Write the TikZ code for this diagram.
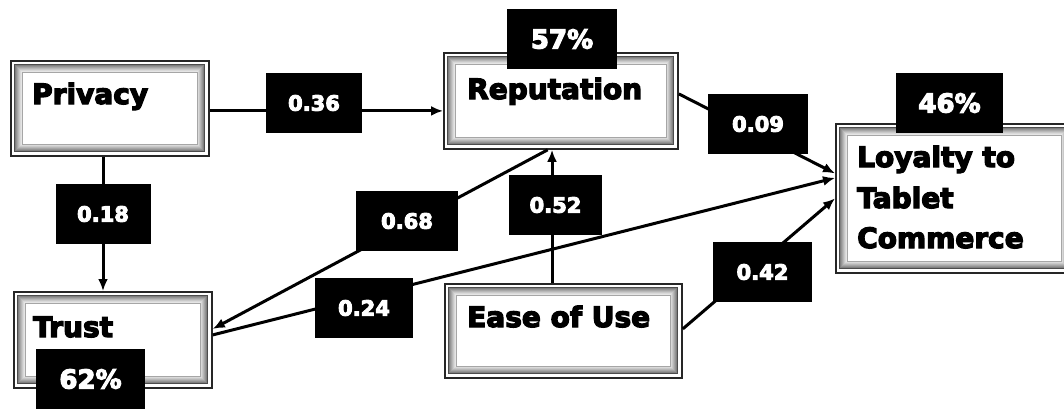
\documentclass[tikz,border=0pt]{standalone}
\usepackage{fontspec}
\newfontfamily\blk{DejaVu Sans Bold}[FakeBold=4.5]
\usetikzlibrary{arrows.meta,calc}
\tikzset{
  bev/.style={rectangle, anchor=north west, inner sep=0pt, draw=black!85, line width=1.8pt, fill=white,
    path picture={
      \fill[black!70] ([shift={(3.5pt,-3.5pt)}]path picture bounding box.north west) rectangle ([shift={(-3.5pt,3.5pt)}]path picture bounding box.south east);
      \foreach \i/\c in {4.5/50,5.5/42,6.5/35,7.5/28,8.5/21,9.5/15,10.5/10}{
        \fill[black!\c] ([shift={(\i pt,-\i pt)}]path picture bounding box.north west) rectangle ([shift={(-\i pt,\i pt)}]path picture bounding box.south east);
      }
      \fill[black!35] ([shift={(11.3pt,-11.3pt)}]path picture bounding box.north west) rectangle ([shift={(-11.3pt,11.3pt)}]path picture bounding box.south east);
      \fill[white] ([shift={(12pt,-12pt)}]path picture bounding box.north west) rectangle ([shift={(-12pt,12pt)}]path picture bounding box.south east);
    }},
  lab/.style={fill=black, text=white, font=\blk\fontsize{21}{24}\selectfont, inner sep=0pt},
  pct/.style={lab, font=\blk\fontsize{26}{30}\selectfont},
  txt/.style={anchor=base west, inner sep=0pt, font=\blk\fontsize{28}{34}\selectfont},
  arr/.style={line width=3pt, -{Latex[length=12pt,width=10pt]}}
}
\begin{document}
\begin{tikzpicture}[x=1pt, y=-1pt]
\path[use as bounding box, clip] (0,0) rectangle (1064,408);
\fill[white] (0,0) rectangle (1064,408);

% boxes
\node[bev, minimum width=198pt, minimum height=95pt] (priv) at (10,60) {};
\node[bev, minimum width=234pt, minimum height=96pt] (rep) at (443,52) {};
\node[bev, minimum width=198pt, minimum height=96pt] (trust) at (13,291) {};
\node[bev, minimum width=237pt, minimum height=94pt] (ease) at (444,283) {};
\node[bev, minimum width=237pt, minimum height=149pt] (loy) at (835,123) {};

% box texts
\node[txt] (tpriv) at (32,104) {Privacy};
\node[txt] (trep) at (467,99) {Reputation};
\node[txt] (ttrust) at (33,337) {Trust};
\node[txt] (tease) at (467,327) {Ease of Use};
\node[txt] (tloy1) at (857,167) {Loyalty to};
\node[txt] (tloy2) at (857,208) {Tablet};
\node[txt] (tloy3) at (857,248) {Commerce};

% label positions
\coordinate (c36) at (314,103);
\coordinate (c18) at (103,214);
\coordinate (c68) at (407,221);
\coordinate (c52) at (552,205);
\coordinate (c24) at (364,308);
\coordinate (c09) at (758,124);
\coordinate (c42) at (762.5,272);

% connectors
\coordinate (p36s) at ([yshift=-2.5pt]priv.east);
\draw[arr] (p36s) -- (p36s -| rep.west);
\draw[arr] (c18 |- priv.south) -- (c18 |- trust.north);
\draw[arr] ($(rep.south west)!0.444!(rep.south east)$) -- ([yshift=11pt]trust.east);
\draw[arr] (c52 |- ease.north) -- (c52 |- rep.south);
\draw[arr] ([yshift=5pt]trust.east) -- ([yshift=20.5pt]loy.west);
\draw[arr] ([yshift=7pt]rep.east) -- ([yshift=25pt]loy.west);
\draw[arr] ([yshift=2pt]ease.east) -- (loy.west);

% labels
\node[lab, minimum width=96pt, minimum height=60pt] (l36) at (c36) {0.36};
\node[lab, minimum width=95pt, minimum height=60pt] (l18) at (c18) {0.18};
\node[lab, minimum width=102pt, minimum height=60pt] (l68) at (c68) {0.68};
\node[lab, minimum width=93pt, minimum height=60pt] (l52) at (555.5,205) {0.52};
\node[lab, minimum width=98pt, minimum height=60pt] (l24) at (c24) {0.24};
\node[lab, minimum width=100pt, minimum height=60pt] (l09) at (c09) {0.09};
\node[lab, minimum width=99pt, minimum height=60pt] (l42) at (c42) {0.42};
\node[pct, minimum width=110pt, minimum height=60pt] (p57) at (562,39) {57\%};
\node[pct, minimum width=107pt, minimum height=60pt] (p46) at (949.5,103) {46\%};
\node[pct, minimum width=109pt, minimum height=60pt] (p62) at (90.5,379) {62\%};
\end{tikzpicture}
\end{document}
